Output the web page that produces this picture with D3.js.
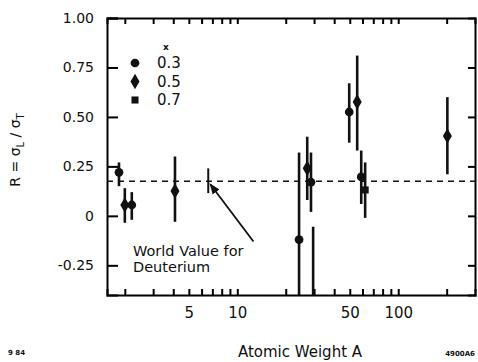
<!DOCTYPE html>
<html>
<head>
<meta charset="utf-8">
<script src="https://cdn.jsdelivr.net/npm/d3@7"></script>
<style>
  body { margin: 0; background: #fff; }
  text { font-family: "DejaVu Sans", sans-serif; fill: #111; }
</style>
</head>
<body>
<div id="container"></div>
<script>
/* DATA */
const atomicWeight = [1.84, 2.0, 2.21, 4.1, 24.2, 27.2, 28.7, 29.6, 49.6, 55.6, 58.9, 62.3, 202];
const ratioR       = [0.22, 0.055, 0.055, 0.126, -0.12, 0.24, 0.17, -0.5, 0.525, 0.576, 0.197, 0.131, 0.404];
const errTop       = [0.27, 0.14, 0.12, 0.30, 0.32, 0.40, 0.32, -0.055, 0.67, 0.81, 0.33, 0.27, 0.60];
const errBottom    = [0.15, -0.035, -0.02, -0.03, -0.55, 0.08, 0.02, -0.6, 0.37, 0.33, 0.06, -0.01, 0.21];
const xGroup       = [0, 1, 0, 1, 0, 1, 0, 0, 0, 1, 0, 2, 1];

const legendX = ["0.3", "0.5", "0.7"];
const worldValue = 0.175;
const worldA = 6.6, worldTop = 0.24, worldBottom = 0.115;
const arrowTail = { A: 12.6, R: -0.13 };

const xTickValues = [2, 3, 4, 5, 6, 7, 8, 9, 10, 20, 30, 40, 50, 60, 70, 80, 90, 100, 200];
const xTickLabels = [5, 10, 50, 100];
const yTickValues = [-0.25, 0, 0.25, 0.5, 0.75, 1.0];
const yTickLabels = ["-0.25", "0", "0.25", "0.50", "0.75", "1.00"];

/* CONSTANTS */
const width = 478, height = 362,
  margin = { top: 18, bottom: 67, left: 107, right: 3 };

const data = atomicWeight.map((a, i) => ({
  A: a, R: ratioR[i], hi: errTop[i], lo: errBottom[i], g: xGroup[i]
}));

/* SCALES */
const xScale = d3.scaleLog()
  .domain([1.55, 300])
  .range([margin.left, width - margin.right]);

const yScale = d3.scaleLinear()
  .domain([-0.4, 1.0])
  .range([height - margin.bottom, margin.top]);

const symbols = [d3.symbolCircle, d3.symbolDiamond, d3.symbolSquare];
const symbolSize = [60, 70, 50];

/* SVG */
const svg = d3.select("#container")
  .append("svg")
  .attr("width", width)
  .attr("height", height);

svg.append("clipPath").attr("id", "plot-clip")
  .append("rect")
  .attr("x", margin.left).attr("y", margin.top)
  .attr("width", width - margin.right - margin.left)
  .attr("height", height - margin.bottom - margin.top);

/* AXES */
const bottomAxis = d3.axisBottom(xScale)
  .tickValues(xTickValues)
  .tickSize(-6)
  .tickPadding(12)
  .tickFormat(d => xTickLabels.includes(d) ? d : "");

svg.append("g")
  .attr("transform", `translate(0,${height - margin.bottom})`)
  .call(bottomAxis)
  .call(g => g.selectAll("text").attr("font-size", 15).attr("fill", "#111"));

svg.append("g")
  .attr("transform", `translate(0,${margin.top})`)
  .call(d3.axisTop(xScale).tickValues(xTickValues).tickSize(-6).tickFormat(""));

svg.append("g")
  .attr("transform", `translate(${margin.left},0)`)
  .call(d3.axisLeft(yScale)
    .tickValues(yTickValues)
    .tickSize(-11)
    .tickPadding(13)
    .tickFormat((d, i) => yTickLabels[i]))
  .call(g => g.selectAll("text").attr("font-size", 14).attr("fill", "#111"));

svg.append("g")
  .attr("transform", `translate(${width - margin.right},0)`)
  .call(d3.axisRight(yScale).tickValues(yTickValues.slice(0, 5)).tickSize(-7).tickFormat(""));

svg.selectAll(".domain").attr("stroke-width", 2);
svg.selectAll(".tick line").attr("stroke-width", 2);

/* REFERENCE LINE */
svg.append("line")
  .attr("x1", margin.left).attr("x2", width - margin.right)
  .attr("y1", yScale(worldValue)).attr("y2", yScale(worldValue))
  .attr("stroke", "#111")
  .attr("stroke-width", 1.6)
  .attr("stroke-dasharray", "6,5");

/* DATA MARKS */
const plot = svg.append("g").attr("clip-path", "url(#plot-clip)");

plot.selectAll("line.err")
  .data(data)
  .join("line")
  .attr("class", "err")
  .attr("x1", d => xScale(d.A)).attr("x2", d => xScale(d.A))
  .attr("y1", d => yScale(d.hi)).attr("y2", d => yScale(d.lo))
  .attr("stroke", "#111")
  .attr("stroke-width", 2.6);

plot.selectAll("path.pt")
  .data(data)
  .join("path")
  .attr("class", "pt")
  .attr("transform", d => `translate(${xScale(d.A)},${yScale(d.R)})`)
  .attr("d", d => d3.symbol(symbols[d.g], symbolSize[d.g])())
  .attr("fill", "#111");

/* WORLD VALUE MARK + ANNOTATION */
svg.append("line")
  .attr("x1", xScale(worldA)).attr("x2", xScale(worldA))
  .attr("y1", yScale(worldTop)).attr("y2", yScale(worldBottom))
  .attr("stroke", "#111")
  .attr("stroke-width", 2);

svg.append("defs").append("marker")
  .attr("id", "head")
  .attr("viewBox", "0 0 10 10")
  .attr("refX", 9).attr("refY", 5)
  .attr("markerWidth", 6).attr("markerHeight", 6)
  .attr("orient", "auto")
  .append("path")
  .attr("d", "M0,1L10,5L0,9z")
  .attr("fill", "#111");

svg.append("line")
  .attr("x1", xScale(arrowTail.A)).attr("y1", yScale(arrowTail.R))
  .attr("x2", xScale(worldA) + 2).attr("y2", yScale(worldValue) + 3)
  .attr("stroke", "#111")
  .attr("stroke-width", 1.8)
  .attr("marker-end", "url(#head)");

const note = svg.append("text")
  .attr("x", 133).attr("y", 256)
  .attr("font-size", 14.5);
note.append("tspan").text("World Value for");
note.append("tspan").attr("x", 133).attr("dy", 16).text("Deuterium");

/* LEGEND */
svg.append("text")
  .attr("x", 166).attr("y", 50)
  .attr("font-size", 9)
  .attr("font-weight", "bold")
  .attr("text-anchor", "middle")
  .text("x");

const legend = svg.append("g")
  .selectAll("g")
  .data(legendX)
  .join("g")
  .attr("transform", (d, i) => `translate(135,${63 + i * 18.5})`);

legend.append("path")
  .attr("d", (d, i) => d3.symbol(symbols[i], symbolSize[i])())
  .attr("fill", "#111");

legend.append("text")
  .attr("x", 22).attr("dy", "0.36em")
  .attr("font-size", 15)
  .text(d => d);

/* TITLES */
svg.append("text")
  .attr("transform", `translate(20,150) rotate(-90)`)
  .attr("text-anchor", "middle")
  .attr("font-size", 14)
  .html('R = σ<tspan font-size="10" dy="4">L</tspan><tspan dy="-4"> / σ</tspan><tspan font-size="10" dy="4">T</tspan>');

svg.append("text")
  .attr("x", 300).attr("y", 357)
  .attr("text-anchor", "middle")
  .attr("font-size", 15)
  .text("Atomic Weight A");

svg.append("text")
  .attr("x", 8).attr("y", 355)
  .attr("font-size", 7).attr("font-weight", "bold")
  .text("9 84");

svg.append("text")
  .attr("x", 475).attr("y", 356)
  .attr("text-anchor", "end")
  .attr("font-size", 7).attr("font-weight", "bold")
  .text("4900A6");
</script>
</body>
</html>
